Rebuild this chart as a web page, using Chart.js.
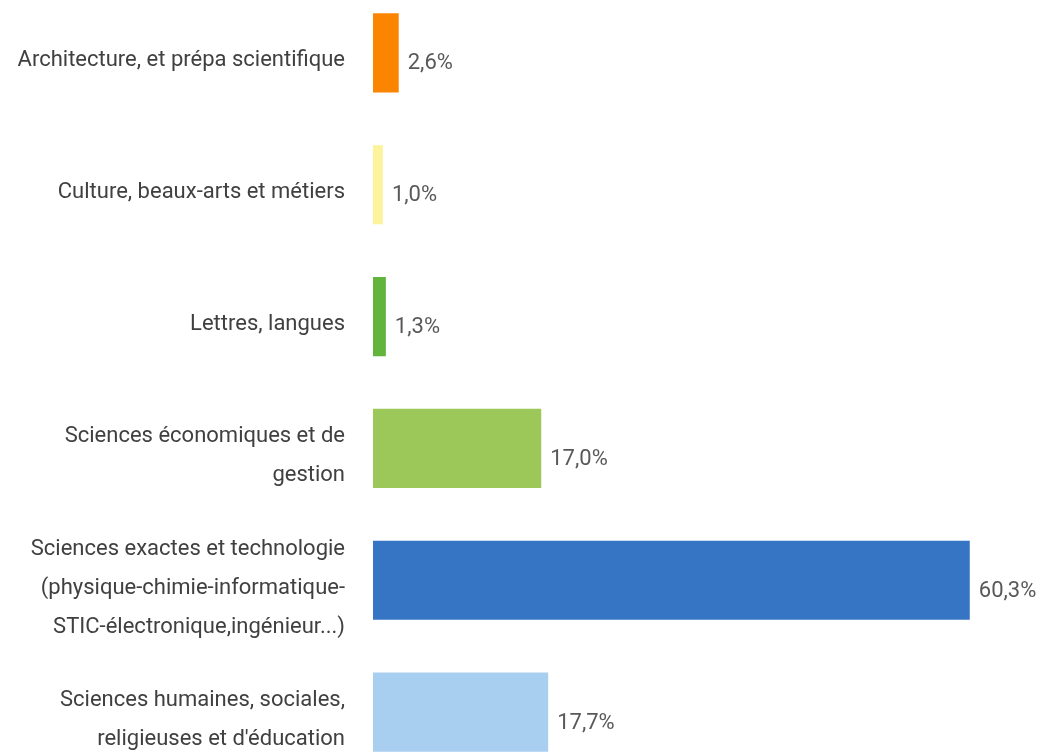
<!DOCTYPE html>
<html>
<head>
<meta charset="utf-8">
<script src="https://cdn.jsdelivr.net/npm/chart.js@4"></script>
<style>
  html, body { margin: 0; padding: 0; background: #fff; overflow: hidden; }
  #wrap { position: absolute; left: 0; top: -13px; width: 1043px; height: 791px; }
</style>
</head>
<body>
<div id="wrap"><canvas id="myBarChart"></canvas></div>
<script>
// categories (multi-line labels as arrays)
const categories = [
  ['Architecture, et prépa scientifique'],
  ['Culture, beaux-arts et métiers'],
  ['Lettres, langues'],
  ['Sciences économiques et de', 'gestion'],
  ['Sciences exactes et technologie', '(physique-chimie-informatique-', 'STIC-électronique,ingénieur...)'],
  ['Sciences humaines, sociales,', "religieuses et d'éducation"],
];
const values = [2.6, 1.0, 1.3, 17.0, 60.3, 17.7];
const valueLabels = ['2,6%', '1,0%', '1,3%', '17,0%', '60,3%', '17,7%'];
const barColors = ['#fb8500', '#fcf39c', '#62b43c', '#9cc759', '#3674c4', '#a8cfef'];

// draws the value text to the right of each bar
const valueLabelPlugin = {
  id: 'valueLabels',
  afterDatasetsDraw(chart) {
    const ctx = chart.ctx;
    const meta = chart.getDatasetMeta(0);
    ctx.save();
    ctx.font = '22px Roboto';
    ctx.fillStyle = '#595959';
    ctx.textAlign = 'left';
    ctx.textBaseline = 'middle';
    meta.data.forEach((bar, i) => {
      ctx.fillText(valueLabels[i], bar.x + 9, bar.y + 11);
    });
    ctx.restore();
  }
};

const chart = new Chart(document.getElementById('myBarChart'), {
  type: 'bar',
  data: {
    labels: categories,
    datasets: [{
      data: values,
      backgroundColor: barColors,
      borderWidth: 0,
      barPercentage: 0.6,
      categoryPercentage: 1.0,
    }],
  },
  options: {
    indexAxis: 'y',
    responsive: true,
    maintainAspectRatio: false,
    animation: false,
    layout: { padding: 0 },
    scales: {
      x: {
        display: false,
        min: 0,
        max: 67.7,
      },
      y: {
        grid: { display: false, drawTicks: false },
        border: { display: false },
        afterFit: (scale) => {
          scale.width = 373;
          // labels may overflow the canvas edges, like in the original crop
          scale.paddingTop = 0;
          scale.paddingBottom = 0;
        },
        ticks: {
          padding: 28,
          labelOffset: 8,
          color: '#404040',
          font: { family: 'Roboto', size: 22, lineHeight: 1.77 },
        },
      },
    },
    plugins: {
      legend: { display: false },
      tooltip: { enabled: false },
    },
  },
  plugins: [valueLabelPlugin],
});
</script>
</body>
</html>
